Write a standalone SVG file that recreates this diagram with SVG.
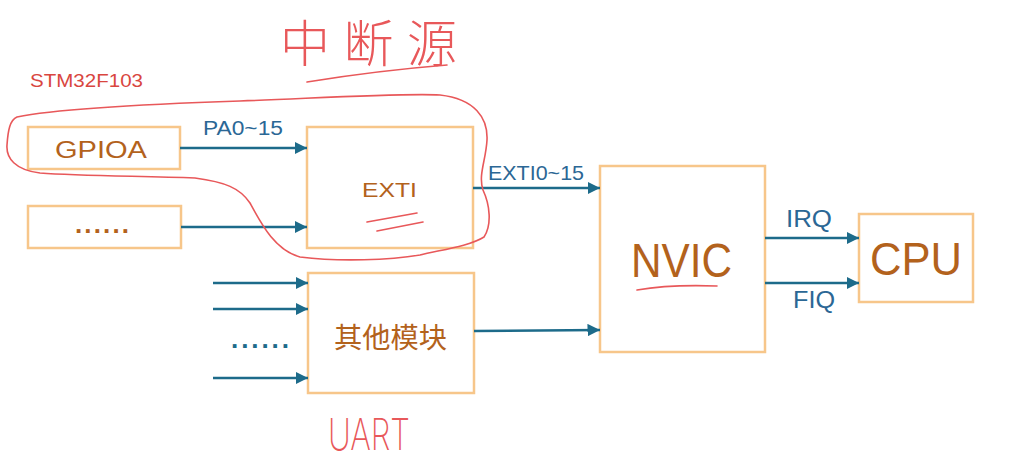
<svg xmlns="http://www.w3.org/2000/svg" width="1024" height="466" viewBox="0 0 1024 466">
<defs>
<marker id="ah" viewBox="0 0 10 10" refX="10" refY="5" markerWidth="5" markerHeight="5" markerUnits="strokeWidth" orient="auto">
<path d="M0,0 L10,5 L0,10 z" fill="#1d6b8a"/>
</marker>
<style>
.box{fill:#fff;stroke:#f7c68a;stroke-width:2.5}
.bt{font-family:"Liberation Sans",Arial,sans-serif;fill:#b3621c}
.lb{font-family:"Liberation Sans",Arial,sans-serif;fill:#2b6795}
.cn{font-family:"Liberation Sans","Noto Sans CJK SC",sans-serif;fill:#b3621c}
.ln{fill:none;stroke:#1d6b8a;stroke-width:2.5;marker-end:url(#ah)}
.hw{fill:none;stroke:#e8585a;stroke-width:1.6;stroke-linecap:round;stroke-linejoin:round}
.hwt{fill:#e8585a}
</style>
</defs>
<rect width="1024" height="466" fill="#fff"/>

<text x="30" y="87" font-family="Liberation Sans,Arial,sans-serif" font-size="18" fill="#d9463f" textLength="113" lengthAdjust="spacingAndGlyphs">STM32F103</text>

<g id="gpioa">
<rect class="box" x="28" y="127" width="152" height="42"/>
<text class="bt" x="55" y="158" font-size="23" textLength="92" lengthAdjust="spacingAndGlyphs">GPIOA</text>
</g>
<g id="other-src">
<rect class="box" x="28" y="206" width="153" height="42"/>
<text class="bt" x="75" y="233" font-size="26" font-weight="bold" textLength="54" lengthAdjust="spacing">......</text>
</g>
<g id="exti">
<rect class="box" x="307" y="127" width="166" height="121"/>
<text class="bt" x="362" y="197" font-size="21" textLength="55" lengthAdjust="spacingAndGlyphs">EXTI</text>
</g>
<g id="others">
<rect class="box" x="308" y="273" width="166" height="120"/>
<text class="cn" x="334" y="348" font-size="28" textLength="113" lengthAdjust="spacingAndGlyphs">其他模块</text>
</g>
<g id="nvic">
<rect class="box" x="600" y="166" width="165" height="186"/>
<text class="bt" x="631" y="277" font-size="48" textLength="101" lengthAdjust="spacingAndGlyphs">NVIC</text>
</g>
<g id="cpu">
<rect class="box" x="859" y="214" width="114" height="88"/>
<text class="bt" x="870" y="275" font-size="47" textLength="92" lengthAdjust="spacingAndGlyphs">CPU</text>
</g>

<g id="connectors">
<line class="ln" x1="180" y1="148" x2="307" y2="148"/>
<line class="ln" x1="181" y1="227" x2="307" y2="227"/>
<line class="ln" x1="473" y1="188" x2="600" y2="188"/>
<line class="ln" x1="474" y1="331" x2="600" y2="330"/>
<line class="ln" x1="213" y1="283" x2="308" y2="283"/>
<line class="ln" x1="213" y1="309" x2="308" y2="309"/>
<line class="ln" x1="213" y1="378" x2="308" y2="378"/>
<line class="ln" x1="765" y1="238" x2="859" y2="238"/>
<line class="ln" x1="765" y1="283" x2="859" y2="283"/>
<text class="lb" x="203" y="135" font-size="20" textLength="80" lengthAdjust="spacingAndGlyphs">PA0~15</text>
<text class="lb" x="488" y="180" font-size="21" textLength="96" lengthAdjust="spacingAndGlyphs">EXTI0~15</text>
<text class="lb" x="786" y="227" font-size="23" textLength="46" lengthAdjust="spacingAndGlyphs">IRQ</text>
<text class="lb" x="793" y="308" font-size="23" textLength="42" lengthAdjust="spacingAndGlyphs">FIQ</text>
<text x="231" y="348" font-family="Liberation Sans,Arial,sans-serif" font-size="26" font-weight="bold" fill="#1d6b8a" textLength="58" lengthAdjust="spacing">......</text>
</g>

<g id="annotations">
<path class="hw" d="M17,117 C60,108 150,104 240,101 C320,98 400,93 440,95 C475,99 488,118 487,140 C486,160 478,175 483,190 C490,205 492,225 484,237 C470,246 440,250 420,255 C390,260 340,262 300,257 C275,250 262,225 250,203 C240,188 225,182 195,178 C140,176 80,176 40,173 C15,170 6,158 7,145 C8,130 10,120 17,117"/>
<path class="hw" d="M367,222 L417,213 M377,231 L423,222"/>
<path class="hw" d="M637,290 C660,286 690,285 717,286"/>
<path class="hw" d="M307,82 C350,75 410,68 447,65"/>
<text class="hwt" x="280" y="62" font-family="Noto Sans CJK SC,sans-serif" font-size="50" font-weight="300" textLength="177" lengthAdjust="spacing">中断源</text>
<text class="hwt" x="328" y="450" font-family="Inter,Liberation Sans,sans-serif" font-size="44" font-weight="200" textLength="82" lengthAdjust="spacingAndGlyphs">UART</text>
</g>
</svg>
